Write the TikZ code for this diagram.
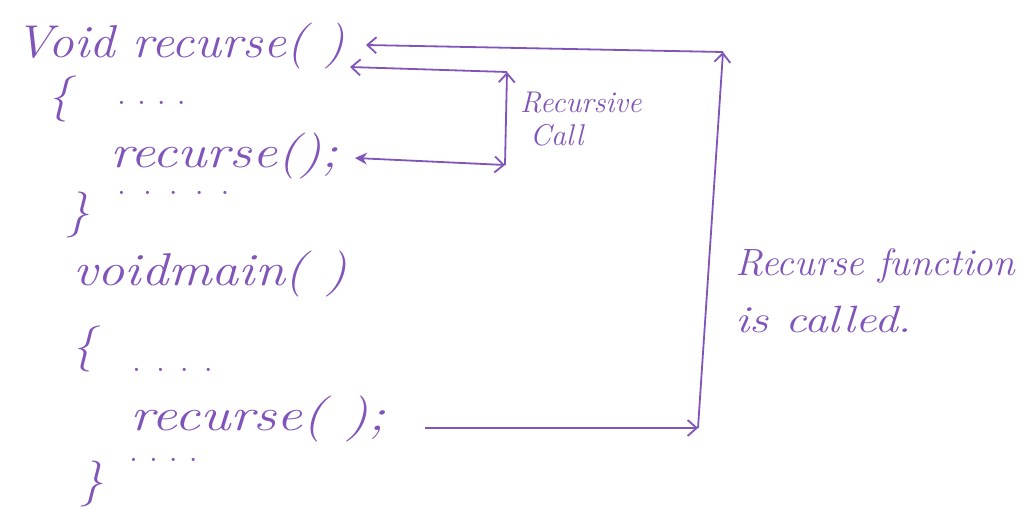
\documentclass[tikz,border=0pt]{standalone}
\usepackage{graphicx}
\usetikzlibrary{arrows.meta}
\definecolor{ink}{RGB}{128,84,184}
\newcommand\widen[2]{\scalebox{#1}[1]{#2}}
\begin{document}
\begin{tikzpicture}[x=1pt,y=-1pt,
  code/.style={anchor=base west, inner sep=0pt, text=ink, font=\fontsize{46}{50}\selectfont\itshape},
  dots/.style={anchor=base west, inner sep=0pt, text=ink, font=\fontsize{22}{24}\selectfont\bfseries},
  note/.style={anchor=base west, inner sep=0pt, text=ink, font=\fontsize{30}{34}\selectfont\itshape},
  bignote/.style={anchor=base west, inner sep=0pt, text=ink, font=\fontsize{38}{42}\selectfont\itshape},
  link/.style={draw=ink, line width=1.8pt, -{Straight Barb[length=9pt,width=16pt]}}]
\useasboundingbox (0,0) rectangle (1029,509);
% code text
\node[code] (l1) at (15,57) {\widen{1.11}{Void recurse( )}};
\node[code] (b1) at (48,110) {\{};
\node[dots] (d1) at (118,104) {.\hspace{13pt}.\hspace{13pt}.\hspace{13pt}.};
\node[code] (l2) at (110,167) {\widen{1.21}{recurse();}};
\node[dots] (d2) at (118,194) {.\hspace{19pt}.\hspace{19pt}.\hspace{19pt}.\hspace{19pt}.};
\node[code] (b2) at (66,226) {\}};
\node[code] (l3) at (73,285) {\widen{1.18}{voidmain( )}};
\node[code] (b3) at (72,360) {\{};
\node[dots] (d3) at (133,371) {.\hspace{17pt}.\hspace{17pt}.\hspace{17pt}.};
\node[code] (l4) at (130,430) {\widen{1.25}{recurse( );}};
\node[code] (b4) at (80,495) {\}};
\node[dots] (d4) at (130,461) {.\hspace{13pt}.\hspace{13pt}.\hspace{13pt}.};
% labels
\node[note] (n1) at (520,112) {Recursive};
\node[note] (n2) at (530,145) {Call};
\node[bignote] (n3) at (735,275) {\widen{1.03}{Recurse function}};
\node[bignote] (n4) at (735,332) {\widen{1.25}{is called.}};
% connector points
\coordinate (tipA) at (366,45);
\coordinate (tr) at (723,52);
\coordinate (br) at (698,428);
\coordinate (ms) at (425,428);
\coordinate (tipB) at (350,67);
\coordinate (rt) at (507,72);
\coordinate (rb) at (505,165);
\coordinate (tipC) at (355,158);
% outer call
\draw[link] (ms) -- (br);
\draw[link] (br) -- (tr);
\draw[link] (tr) -- (tipA);
% recursive call
\draw[link, {Stealth[length=12pt,width=12pt]}-{Straight Barb[length=9pt,width=16pt]}] (tipC) -- (rb);
\draw[link] (rb) -- (rt);
\draw[link] (rt) -- (tipB);
\end{tikzpicture}
\end{document}
